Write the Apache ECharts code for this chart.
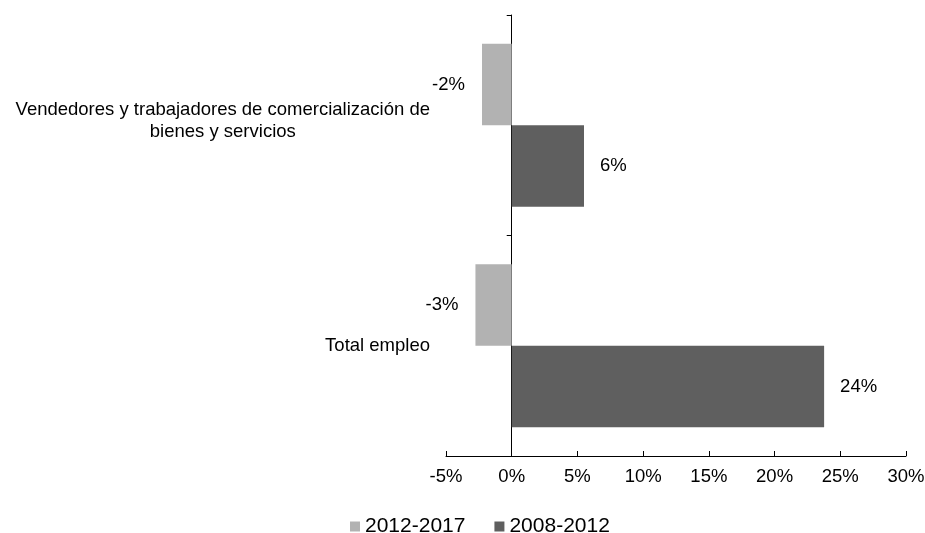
<!DOCTYPE html>
<html>
<head>
<meta charset="utf-8">
<script src="https://cdn.jsdelivr.net/npm/echarts@6/dist/echarts.min.js"></script>
<style>
  html, body { margin: 0; padding: 0; background: #fff; }
  #chart { width: 925px; height: 533px; }
</style>
</head>
<body>
<div id="chart"></div>
<script>
// categories (bottom to top, as ECharts draws a y category axis)
const categories = [
    'Total empleo',
    'Vendedores y trabajadores de comercialización de\nbienes y servicios'
];
const seriesNames = ['2012-2017', '2008-2012'];
const values20122017 = [-2.76, -2.26];
const values20082012 = [23.77, 5.5];
const xTicks = { min: -5, max: 30, step: 5 };

const colors = ['#b2b2b2', '#5f5f5f'];
const font = 'Liberation Sans, Arial, sans-serif';

// 数据标签: 负数放左边, 正数放右边
function withLabels (arr) {
    return arr.map(v => ({
        value: v,
        label: {
            position: v < 0 ? 'left' : 'right',
            distance: v < 0 ? 17 : 16
        }
    }));
}

const myChart = echarts.init(document.getElementById('chart'));

const barLabel = {
    show: true,
    color: '#000',
    fontFamily: font,
    fontSize: 18.5,
    formatter: p => Math.round(p.value) + '%'
};

const option = {
    animation: false,
    backgroundColor: '#fff',
    grid: {
        left: 446, right: 19, top: 15, bottom: 77,
        containLabel: false,
        outerBoundsMode: 'none'
    },
    legend: {
        left: 345,
        top: 511,
        icon: 'rect',
        itemWidth: 10,
        itemHeight: 10,
        itemGap: 29,
        textStyle: { color: '#000', fontFamily: font, fontSize: 21 },
        data: seriesNames
    },
    xAxis: {
        type: 'value',
        min: xTicks.min,
        max: xTicks.max,
        interval: xTicks.step,
        axisLine: { show: true, onZero: false, lineStyle: { color: '#000', width: 1 } },
        axisTick: { show: true, inside: true, length: 5, lineStyle: { color: '#000' } },
        splitLine: { show: false },
        axisLabel: {
            color: '#000',
            fontFamily: font,
            fontSize: 18.5,
            margin: 11,
            formatter: '{value}%'
        }
    },
    yAxis: {
        type: 'category',
        data: categories,
        axisLine: { show: true, onZero: true, lineStyle: { color: '#000', width: 1 } },
        axisTick: { show: true, length: 5, lineStyle: { color: '#000' } },
        axisLabel: {
            color: '#000',
            margin: 16,
            formatter: v => {
                const lines = v.split('\n');
                const key = lines.length > 1 ? 'm' : 'c';
                return lines.map(l => '{' + key + '|' + l + '}').join('\n');
            },
            rich: {
                c: { fontFamily: font, fontSize: 18.5, lineHeight: 22, align: 'center', color: '#000' },
                m: { fontFamily: font, fontSize: 18.5, lineHeight: 22, align: 'center', color: '#000', padding: [0, 0, 8, 0] }
            }
        }
    },
    series: [
        {
            name: seriesNames[0],
            type: 'bar',
            barGap: '0%',
            barCategoryGap: '26%',
            itemStyle: { color: colors[0] },
            label: barLabel,
            data: withLabels(values20122017)
        },
        {
            name: seriesNames[1],
            type: 'bar',
            barGap: '0%',
            barCategoryGap: '26%',
            itemStyle: { color: colors[1] },
            label: barLabel,
            data: withLabels(values20082012)
        }
    ]
};

myChart.setOption(option);
</script>
</body>
</html>
